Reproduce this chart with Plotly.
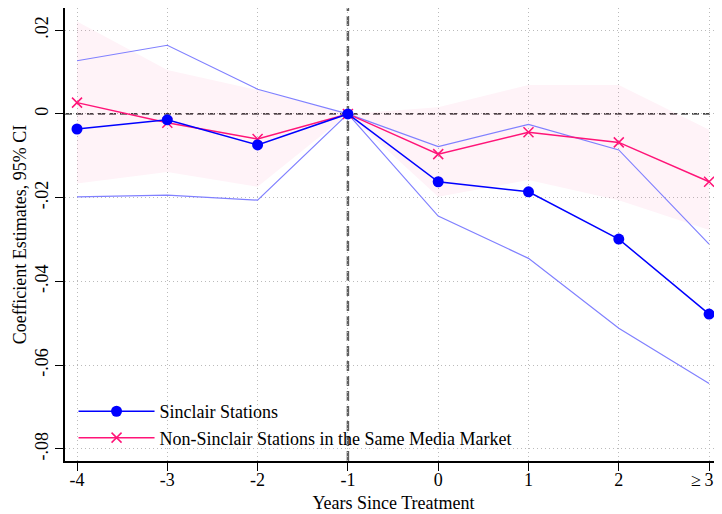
import plotly.graph_objects as go

x_vals = [-4, -3, -2, -1, 0, 1, 2, 3]
x_labels = ["-4", "-3", "-2", "-1", "0", "1", "2", "≥\u20093\u00a0\u00a0\u00a0"]

sinclair = [-0.0036, -0.0014, -0.0074, 0.0, -0.0162, -0.0186, -0.0299, -0.0478]
sinclair_hi = [0.0127, 0.0164, 0.0059, 0.0, -0.0078, -0.0025, -0.0086, -0.0311]
sinclair_lo = [-0.0198, -0.0194, -0.0206, 0.0, -0.0244, -0.0345, -0.0512, -0.0644]

non_sinclair = [0.0027, -0.0021, -0.0060, 0.0, -0.0096, -0.0044, -0.0068, -0.0162]
non_sinclair_hi = [0.0221, 0.0105, 0.0057, 0.0, 0.0016, 0.0069, 0.0069, -0.0038]
non_sinclair_lo = [-0.0166, -0.0139, -0.0174, 0.0, -0.0198, -0.0158, -0.0206, -0.0277]

y_ticks = [0.02, 0.0, -0.02, -0.04, -0.06, -0.08]
y_labels = [".02", "0", "-.02", "-.04", "-.06", "-.08"]

BLUE = "#0000FF"
LIGHT_BLUE = "#8080FF"
PINK = "#FF1478"
BAND = "rgba(255,20,120,0.05)"
FONT = "Liberation Serif"

fig = go.Figure()

# Non-Sinclair CI band
fig.add_trace(go.Scatter(x=x_vals, y=non_sinclair_hi, mode="lines", line=dict(width=0),
                         showlegend=False, hoverinfo="skip"))
fig.add_trace(go.Scatter(x=x_vals, y=non_sinclair_lo, mode="lines", line=dict(width=0),
                         fill="tonexty", fillcolor=BAND, showlegend=False, hoverinfo="skip"))

# Sinclair CI lines
fig.add_trace(go.Scatter(x=x_vals, y=sinclair_hi, mode="lines", line=dict(color=LIGHT_BLUE, width=1.2),
                         showlegend=False))
fig.add_trace(go.Scatter(x=x_vals, y=sinclair_lo, mode="lines", line=dict(color=LIGHT_BLUE, width=1.2),
                         showlegend=False))

# Main lines
fig.add_trace(go.Scatter(x=x_vals, y=non_sinclair, mode="lines+markers",
                         name="Non-Sinclair Stations in the Same Media Market",
                         line=dict(color=PINK, width=1.5),
                         marker=dict(symbol="x-thin", size=10, line=dict(color=PINK, width=1.5)),
                         legendrank=2))
fig.add_trace(go.Scatter(x=x_vals, y=sinclair, mode="lines+markers",
                         name="Sinclair Stations",
                         line=dict(color=BLUE, width=1.5),
                         marker=dict(symbol="circle", size=11, color=BLUE),
                         legendrank=1))

shapes = [
    # white legend backdrop covering the gridlines
    dict(type="rect", xref="paper", yref="paper", x0=0.003, x1=1, y0=0.005, y1=0.152,
         fillcolor="white", line=dict(width=0), layer="between"),
    # zero line
    dict(type="line", xref="paper", yref="y", x0=0, x1=1, y0=0, y1=0,
         line=dict(color="black", width=1.2, dash="7px,4px"), layer="between"),
    # treatment line
    dict(type="line", xref="x", yref="paper", x0=-1, x1=-1, y0=0, y1=1,
         line=dict(color="#606060", width=2.5, dash="10px,5px"), layer="between"),
]

# page body has an 8px margin, so the figure is offset by 8px on the page
fig.update_layout(
    width=714, height=506,
    margin=dict(l=57, r=0, t=0, b=53, autoexpand=False),
    plot_bgcolor="white", paper_bgcolor="white",
    font=dict(family=FONT, size=18, color="black"),
    shapes=shapes,
    showlegend=True,
    legend=dict(x=0.013, y=0.15, xanchor="left", yanchor="top",
                bgcolor="rgba(0,0,0,0)", font=dict(family=FONT, size=18),
                traceorder="normal", tracegroupgap=0, itemwidth=76),
    xaxis=dict(
        range=[-4.133, 3.143], tickmode="array", tickvals=x_vals, ticktext=x_labels,
        showgrid=True, gridcolor="#BBBBBB", griddash="1px,3px", gridwidth=1,
        showline=True, linecolor="black", linewidth=1.5,
        ticks="outside", ticklen=8, tickcolor="black", tickwidth=1,
        ticklabelstandoff=-6, ticklabeloverflow="allow",
        zeroline=False, automargin=False,
        title=dict(text="Years Since Treatment", font=dict(family=FONT, size=18), standoff=7),
        tickfont=dict(family=FONT, size=18),
    ),
    yaxis=dict(
        range=[-0.0829, 0.0253], tickmode="array", tickvals=y_ticks, ticktext=y_labels,
        tickangle=-90,
        showgrid=True, gridcolor="#BBBBBB", griddash="1px,3px", gridwidth=1,
        showline=True, linecolor="black", linewidth=1.5,
        ticks="outside", ticklen=8, tickcolor="black", tickwidth=1,
        zeroline=False, automargin=False,
        title=dict(text="Coefficient Estimates, 95% CI", font=dict(family=FONT, size=18), standoff=1),
        tickfont=dict(family=FONT, size=18),
    ),
)

fig.write_html("out.html")
